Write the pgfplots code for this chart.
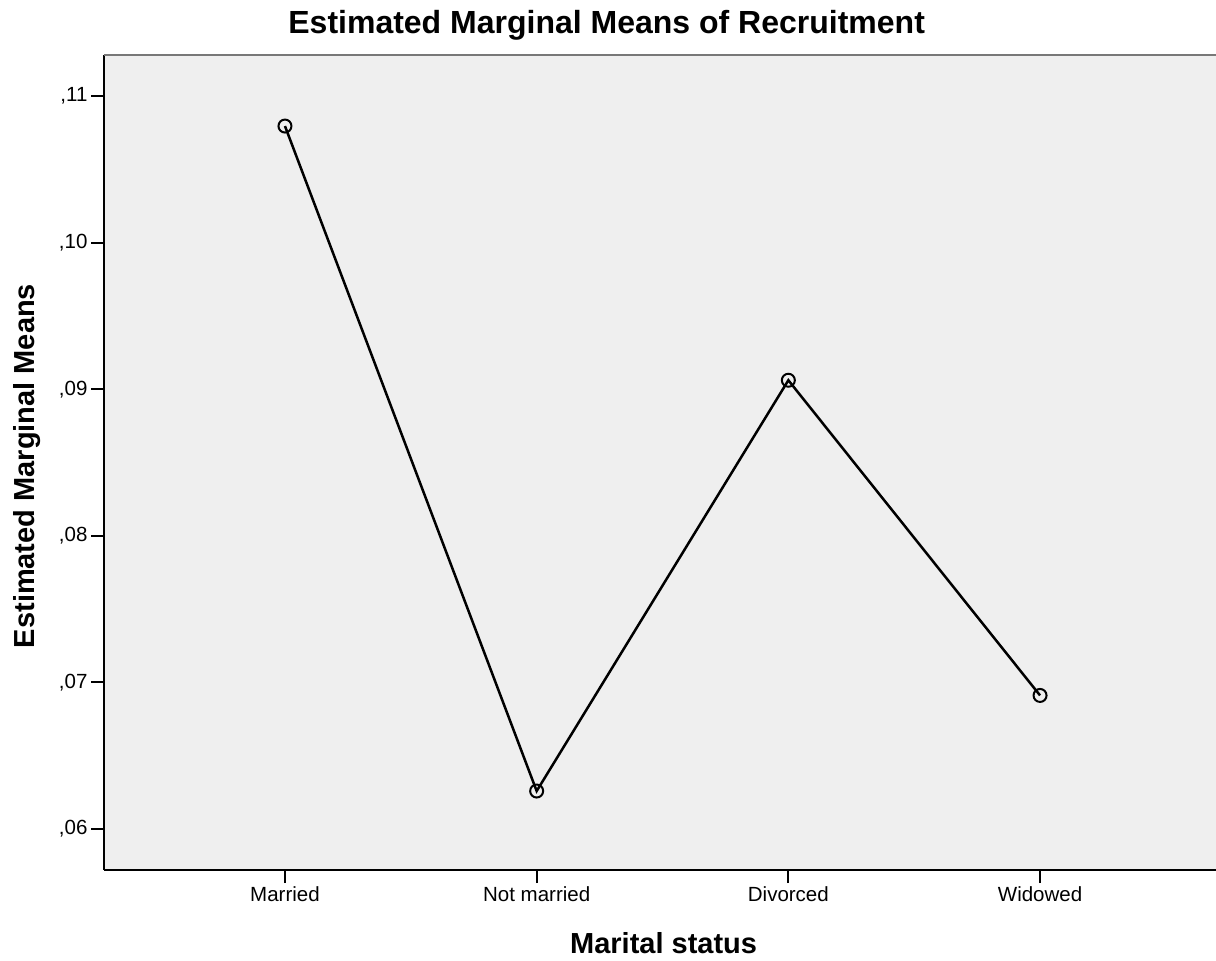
\documentclass[border=0pt]{standalone}
\usepackage{fontspec}
\setmainfont{Liberation Sans}
\usepackage{pgfplots}
\pgfplotsset{compat=1.18}
\definecolor{plotbg}{HTML}{EFEFEF}
\definecolor{topline}{RGB}{120,120,120}
\begin{document}
\begin{tikzpicture}
\begin{axis}[
  at={(104pt,91pt)}, anchor=south west,
  scale only axis, width=1117pt, height=815pt,
  xmin=-0.719, xmax=3.719, ymin=0.057203, ymax=0.112797,
  xtick={0,1,2,3}, xticklabels={Married,Not married,Divorced,Widowed},
  ytick={0.06,0.07,0.08,0.09,0.10,0.11},
  yticklabels={{,06},{,07},{,08},{,09},{,10},{,11}},
  axis x line*=bottom, axis y line*=left,
  axis line style={black, line width=2pt, -},
  tick align=outside, major tick length=13pt,
  tick style={black, line width=2pt},
  ticklabel style={font=\fontsize{20.5}{24}\selectfont},
  axis background/.style={fill=plotbg},
  title={Estimated Marginal Means of Recruitment},
  title style={font=\fontsize{32}{36}\selectfont\bfseries, at={(axis description cs:0.450,1.0294)}, anchor=center},
  xlabel={Marital status},
  xlabel style={font=\fontsize{29}{34}\selectfont\bfseries, at={(axis description cs:0.501,-0.0896)}, anchor=center},
  ylabel={Estimated Marginal Means},
  ylabel style={font=\fontsize{29}{34}\selectfont\bfseries, at={(axis description cs:-0.0690,0.4957)}, anchor=center},
]
\draw[topline, line width=3pt] (rel axis cs:0,1) -- (rel axis cs:1,1);
\addplot[black, line width=2.5pt, mark=o, mark size=6.5pt, mark options={line width=2pt, fill=none}]
  coordinates {(0,0.10795) (1,0.06259) (2,0.09061) (3,0.06911)};
\end{axis}
\pgfresetboundingbox
\useasboundingbox (0,0) rectangle (1216pt,961pt);
\end{tikzpicture}
\end{document}
